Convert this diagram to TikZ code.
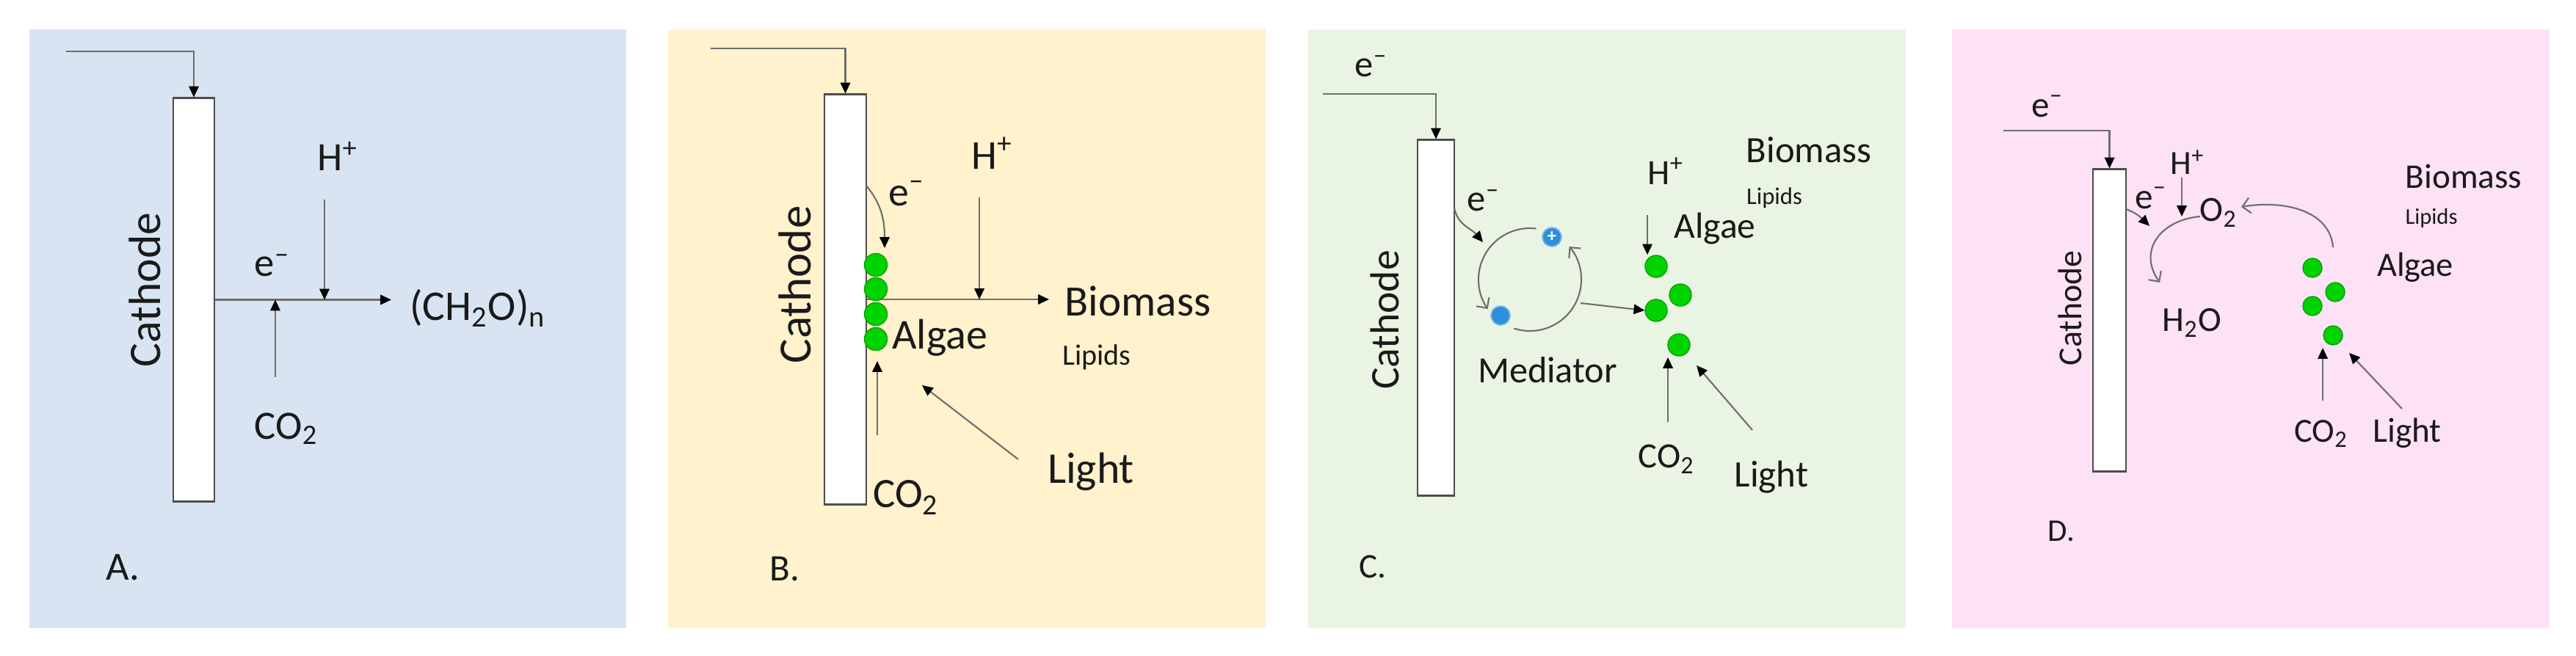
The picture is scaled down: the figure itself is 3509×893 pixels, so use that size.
\documentclass[tikz,border=0pt]{standalone}
\usepackage{fontspec}
\setmainfont{Carlito}
\usetikzlibrary{positioning,arrows.meta}
\definecolor{bgA}{HTML}{D9E4F3}
\definecolor{bgB}{HTML}{FFF2CC}
\definecolor{bgC}{HTML}{EAF4E3}
\definecolor{bgD}{HTML}{FDE1F4}
\definecolor{ink}{HTML}{1A1A1A}
\definecolor{linegray}{HTML}{6E6E6E}
\definecolor{edgegray}{HTML}{4D4D4D}
\definecolor{algagreen}{HTML}{00D400}
\definecolor{algaedge}{HTML}{00A000}
\definecolor{medblue}{HTML}{2E8FDA}

\begin{document}
\begin{tikzpicture}[
  x=0.01cm, y=0.01cm,
  cathode/.style={draw=edgegray,line width=0.8pt,fill=white,inner sep=0pt},
  wire/.style={draw=linegray,line width=0.6pt},
  arr/.style={wire,-{Triangle[length=4.2pt,width=3.8pt,color=black]}},
  oarr/.style={wire,-{Straight Barb[length=3pt,width=6pt]}},
  lbl/.style={inner sep=0pt,text=ink},
  fs/.style={font=\fontsize{#1}{#1}\selectfont},
  alga/.style={circle,fill=algagreen,draw=algaedge,line width=0.4pt,minimum size=#1,inner sep=0pt},
  med/.style={circle,fill=medblue,draw=medblue!60!white,line width=0.5pt,minimum size=0.26cm,inner sep=0pt}
]
\useasboundingbox (0,0) rectangle (3509,-893);
\fill[white] (0,0) rectangle (3509,-893);

% A. cathode only
\fill[bgA] (40,-40) rectangle (853,-856);
\node[cathode,minimum width=0.56cm,minimum height=5.49cm] (catA) at (264,-408.5) {};
\node[lbl,fs=17.5,rotate=90] (cathA) at (197,-395) {Cathode};
\coordinate (inA) at (90,-70);
\draw[arr] (inA) -| (catA.north);
\coordinate (prodA) at (533,-408.5);
\draw[arr] (catA.east) -- (prodA);
\coordinate (hA) at (442,-272);
\draw[arr] (hA) -- (hA |- catA.east);
\coordinate (cA) at (375,-514);
\draw[arr] (cA) -- (cA |- catA.east);
\node[lbl,fs=15.6] (hpA) at (460,-213) {H\textsuperscript{+}};
\node[lbl,fs=15.6] (eA) at (371,-362) {e\textsuperscript{\textendash}};
\node[lbl,fs=15.6] (co2A) at (390,-584) {CO\textsubscript{2}};
\node[lbl,fs=16.4] (ch2oA) at (651,-420) {(CH\textsubscript{2}O)\textsubscript{n}};
\node[lbl,fs=15.5] (tagA) at (167,-773) {A.};

% B. algae biofilm on the cathode
\fill[bgB] (910,-40) rectangle (1724,-856);
\node[cathode,minimum width=0.57cm,minimum height=5.58cm] (catB) at (1151.5,-408) {};
\node[lbl,fs=17.9,rotate=90] (cathB) at (1083,-388) {Cathode};
\coordinate (inB) at (968,-66);
\draw[arr] (inB) -| (catB.north);
\coordinate (prodB) at (1429,-408);
\draw[arr] (catB.east) -- (prodB);
\foreach \y [count=\i] in {361,394,428,462}
  \node[alga=0.31cm] (algB\i) at (1193,-\y) {};
\coordinate (eBs) at (1180,-253);
\coordinate (eBt) at (1205,-338);
\draw[arr] (eBs) to[out=-50,in=90] (eBt);
\node[lbl,fs=15.9] (eB) at (1235,-264) {e\textsuperscript{\textendash}};
\coordinate (hB) at (1334,-269);
\draw[arr] (hB) -- (hB |- catB.east);
\coordinate (cB) at (1195,-593);
\coordinate (cBe) at (1195,-492);
\draw[arr] (cB) -- (cBe);
\coordinate (lB) at (1387,-626);
\coordinate (lBe) at (1256,-525);
\draw[arr] (lB) -- (lBe);
\node[lbl,fs=15.9] (hpB) at (1352,-209) {H\textsuperscript{+}};
\node[lbl,fs=16.8] (bioB) at (1550,-410) {Biomass};
\node[lbl,fs=11.4] (lipB) at (1494,-487) {Lipids};
\node[lbl,fs=16.5] (algaeB) at (1280,-460) {Algae};
\node[lbl,fs=16.2] (co2B) at (1234,-678) {CO\textsubscript{2}};
\node[lbl,fs=17] (lightB) at (1486,-643) {Light};
\node[lbl,fs=14.5] (tagB) at (1069,-775) {B.};

% C. mediated transfer
\fill[bgC] (1782,-40) rectangle (2596,-856);
\node[cathode,minimum width=0.50cm,minimum height=4.84cm] (catC) at (1956,-433) {};
\node[lbl,fs=15.8,rotate=90] (cathC) at (1886,-436) {Cathode};
\coordinate (inC) at (1802,-128);
\draw[arr] (inC) -| (catC.north);
\node[lbl,fs=14.4] (eC) at (1868,-90) {e\textsuperscript{\textendash}};
\node[lbl,fs=14.4] (eC2) at (2021,-273) {e\textsuperscript{\textendash}};
\coordinate (eCs) at (1981,-283);
\coordinate (eCt) at (2020,-330);
\draw[arr] (eCs) to[out=-80,in=130] (eCt);
\coordinate (cyc) at (2084,-381);
\draw[oarr] ([shift={(83:70)}]cyc) arc[start angle=83,end angle=215,radius=70];
\draw[oarr] ([shift={(252:70)}]cyc) arc[start angle=252,end angle=400,radius=70];
\node[med,text=white,font=\fontsize{7}{7}\selectfont\bfseries] (medox) at (2114,-323) {+};
\node[med] (medred) at (2044,-430) {};
\foreach \x/\y [count=\i] in {2256/363,2289/402,2256/423,2287/470}
  \node[alga=0.30cm] (algC\i) at (\x,-\y) {};
\coordinate (mC) at (2153,-413);
\draw[arr] (mC) -- (algC3.west);
\coordinate (hC) at (2244,-293);
\draw[arr] (hC) -- (hC |- algC1.north);
\coordinate (cC) at (2272,-575);
\coordinate (cCe) at (2272,-487);
\draw[arr] (cC) -- (cCe);
\coordinate (lC) at (2387,-586);
\coordinate (lCe) at (2311,-498);
\draw[arr] (lC) -- (lCe);
\node[lbl,fs=13.8] (hpC) at (2269,-233) {H\textsuperscript{+}};
\node[lbl,fs=14.1] (algaeC) at (2336,-312) {Algae};
\node[lbl,fs=9.3] (lipC) at (2417,-270) {Lipids};
\node[lbl,fs=14.4] (bioC) at (2464,-204) {Biomass};
\node[lbl,fs=14.3] (medC) at (2108,-504) {Mediator};
\node[lbl,fs=13.8] (co2C) at (2270,-626) {CO\textsubscript{2}};
\node[lbl,fs=14.5] (lightC) at (2413,-650) {Light};
\node[lbl,fs=13.4] (tagC) at (1870,-772) {C.};

% D. oxygen reduction
\fill[bgD] (2659,-40) rectangle (3473,-856);
\node[cathode,minimum width=0.45cm,minimum height=4.11cm] (catD) at (2873.5,-436.5) {};
\node[lbl,fs=13,rotate=90] (cathD) at (2820,-420) {Cathode};
\coordinate (inD) at (2729,-178);
\draw[arr] (inD) -| (catD.north);
\node[lbl,fs=14] (eD) at (2789,-145) {e\textsuperscript{\textendash}};
\node[lbl,fs=14] (eD2) at (2930,-270) {e\textsuperscript{\textendash}};
\coordinate (eDs) at (2896,-285);
\coordinate (eDt) at (2928,-308);
\draw[arr] (eDs) to[out=-20,in=135] (eDt);
\coordinate (hD) at (2972,-242);
\coordinate (hDe) at (2972,-295);
\draw[arr] (hD) -- (hDe);
\coordinate (oDs) at (2997,-295);
\coordinate (oDt) at (2942,-385);
\draw[oarr] (oDs) to[out=185,in=125,looseness=1.3] (oDt);
\foreach \x/\y [count=\i] in {3150/365,3181/398,3150/417,3178/457}
  \node[alga=0.26cm] (algD\i) at (\x,-\y) {};
\coordinate (aDs) at (3178,-337);
\coordinate (aDt) at (3053,-282);
\draw[oarr] (aDs) to[out=95,in=10] (aDt);
\coordinate (cD) at (3164,-546);
\coordinate (cDe) at (3164,-474);
\draw[arr] (cD) -- (cDe);
\coordinate (lD) at (3272,-557);
\coordinate (lDe) at (3200,-481);
\draw[arr] (lD) -- (lDe);
\node[lbl,fs=13.1] (hpD) at (2980,-221) {H\textsuperscript{+}};
\node[lbl,fs=13.7] (o2D) at (3022,-290) {O\textsubscript{2}};
\node[lbl,fs=13.6] (h2oD) at (2986,-440) {H\textsubscript{2}O};
\node[lbl,fs=13.2] (algaeD) at (3290,-364) {Algae};
\node[lbl,fs=13.4] (bioD) at (3356,-240) {Biomass};
\node[lbl,fs=8.7] (lipD) at (3312,-297) {Lipids};
\node[lbl,fs=13.1] (co2D) at (3162,-591) {CO\textsubscript{2}};
\node[lbl,fs=13.4] (lightD) at (3279,-590) {Light};
\node[lbl,fs=12.2] (tagD) at (2808,-724) {D.};
\end{tikzpicture}
\end{document}
